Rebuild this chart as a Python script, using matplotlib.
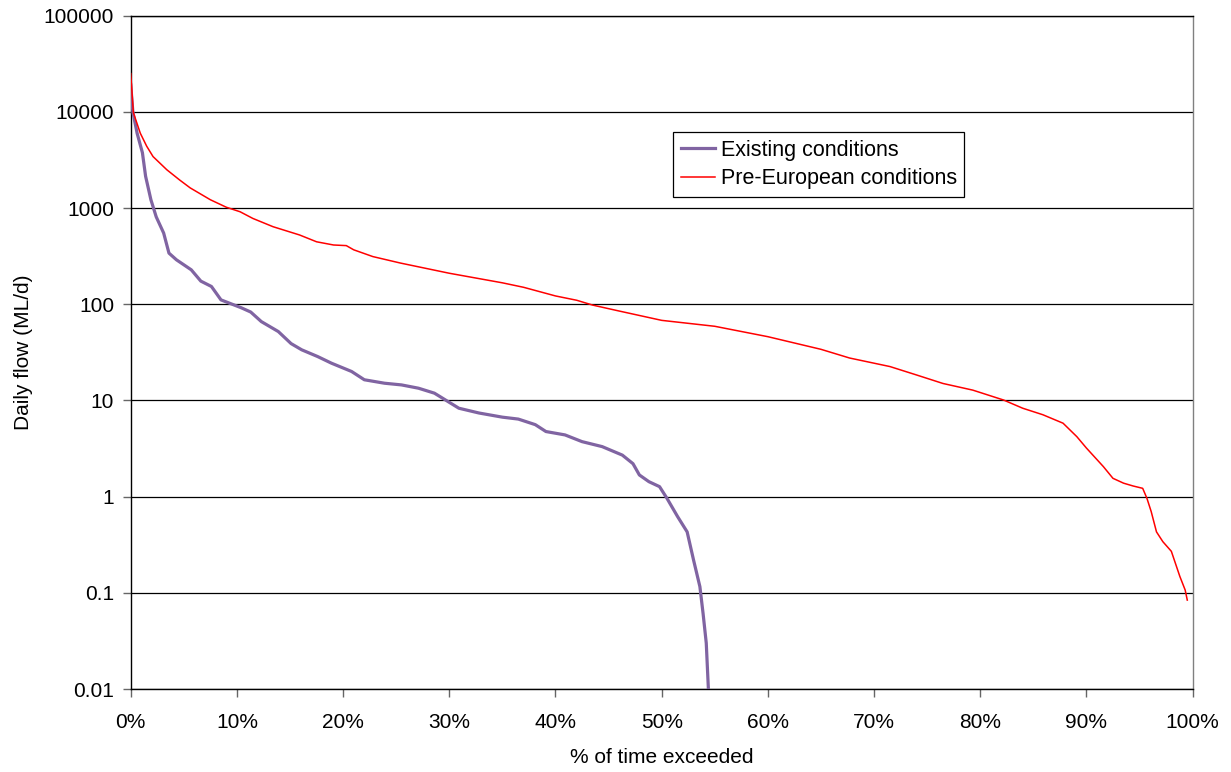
import numpy as np
import matplotlib
matplotlib.use('Agg')
from matplotlib import pyplot as plt
from matplotlib.ticker import FixedLocator, FuncFormatter, NullLocator

plt.rcParams['font.family'] = ['Liberation Sans', 'DejaVu Sans']

# flow duration curves (% of time exceeded, ML/d)
existing_pct = [0.0, 0.2, 0.6, 1.1, 1.4, 1.9, 2.4, 3.1, 3.6, 4.3, 5.7, 6.6, 7.6, 8.5,
                10.4, 11.3, 12.3, 13.9, 15.1, 16.1, 17.6, 18.9, 20.8, 22.0, 23.9,
                25.5, 27.1, 28.6, 30.9, 32.8, 35.0, 36.5, 38.1, 39.1, 40.9, 42.5,
                44.4, 46.3, 47.3, 47.9, 48.8, 49.8, 50.5, 51.5, 52.4, 53.0, 53.6,
                53.9, 54.2, 54.4]
existing_flow = [19000, 10000, 6000, 3760, 2140, 1220, 810, 550, 340, 290, 228, 174,
                 153, 111, 92, 83, 66, 52, 39, 33.6, 28.6, 24.4, 20, 16.4, 15.1,
                 14.5, 13.4, 11.9, 8.3, 7.4, 6.7, 6.4, 5.6, 4.75, 4.38, 3.73, 3.31,
                 2.7, 2.2, 1.68, 1.43, 1.27, 0.96, 0.62, 0.43, 0.22, 0.116, 0.061,
                 0.03, 0.01]

pre_pct = [0.0, 0.25, 0.9, 1.5, 2.1, 3.4, 4.6, 5.6, 7.5, 9.0, 10.3, 11.5, 13.4, 15.9,
           17.5, 19.1, 20.3, 21.0, 22.8, 25.4, 30.0, 35.0, 37.0, 40.0, 42.0, 43.5,
           46.0, 50.0, 55.0, 60.0, 65.0, 67.7, 71.5, 74.0, 76.5, 79.3, 82.2, 84.0,
           85.9, 87.8, 89.1, 90.0, 91.6, 92.5, 93.5, 94.4, 95.3, 95.7, 96.1, 96.6,
           97.2, 98.0, 98.8, 99.3, 99.5]
pre_flow = [25000, 9800, 6000, 4400, 3430, 2500, 1960, 1620, 1220, 1020, 915, 780,
            640, 525, 446, 413, 407, 368, 313, 268, 210, 167, 150, 122, 110, 98, 85,
            68, 59, 46, 34, 27.6, 22.5, 18.4, 15, 12.8, 10.1, 8.3, 7.1, 5.8, 4.2,
            3.2, 2.05, 1.55, 1.38, 1.29, 1.22, 0.96, 0.70, 0.43, 0.34, 0.27, 0.148,
            0.107, 0.084]

y_ticks = [0.01, 0.1, 1, 10, 100, 1000, 10000, 100000]
y_labels = ['0.01', '0.1', '1', '10', '100', '1000', '10000', '100000']
x_ticks = np.arange(0, 101, 10)

fig = plt.figure(figsize=(12.31, 7.72), dpi=100)
ax = fig.add_axes([0.1062, 0.1075, 0.8626, 0.8722])

ax.plot(existing_pct, existing_flow, color='#8064A2', lw=2.3, label='Existing conditions',
        zorder=3)
ax.plot(pre_pct, pre_flow, color='#FF0000', lw=1.1, label='Pre-European conditions',
        zorder=3)

ax.set_yscale('log')
ax.set_ylim(0.01, 100000)
ax.set_xlim(0, 100)
ax.yaxis.set_major_locator(FixedLocator(y_ticks))
ax.yaxis.set_minor_locator(NullLocator())
ax.set_yticklabels(y_labels)
ax.set_xticks(x_ticks)
ax.xaxis.set_major_formatter(FuncFormatter(lambda v, p: '%d%%' % v))
ax.tick_params(axis='both', labelsize=15, direction='out', length=6, width=1,
               color='#666666')
ax.tick_params(axis='x', pad=11)
ax.tick_params(axis='y', pad=6)

ax.grid(axis='y', color='black', lw=0.9)
ax.set_axisbelow(True)
for side in ['left', 'bottom', 'top']:
    ax.spines[side].set_color('black')
    ax.spines[side].set_linewidth(1)
ax.spines['right'].set_color('#808080')
ax.spines['right'].set_linewidth(1)

ax.set_ylabel('Daily flow (ML/d)', fontsize=15, labelpad=8)
ax.set_xlabel('% of time exceeded', fontsize=15, labelpad=12)

leg = ax.legend(loc='upper left', bbox_to_anchor=(0.511, 0.827), fontsize=15.5,
                frameon=True, fancybox=False, edgecolor='black', framealpha=1,
                handlelength=1.6, handletextpad=0.25, borderpad=0.35, labelspacing=0.35,
                borderaxespad=0)
leg.get_frame().set_linewidth(0.9)

fig.savefig('out.png', dpi=100)
